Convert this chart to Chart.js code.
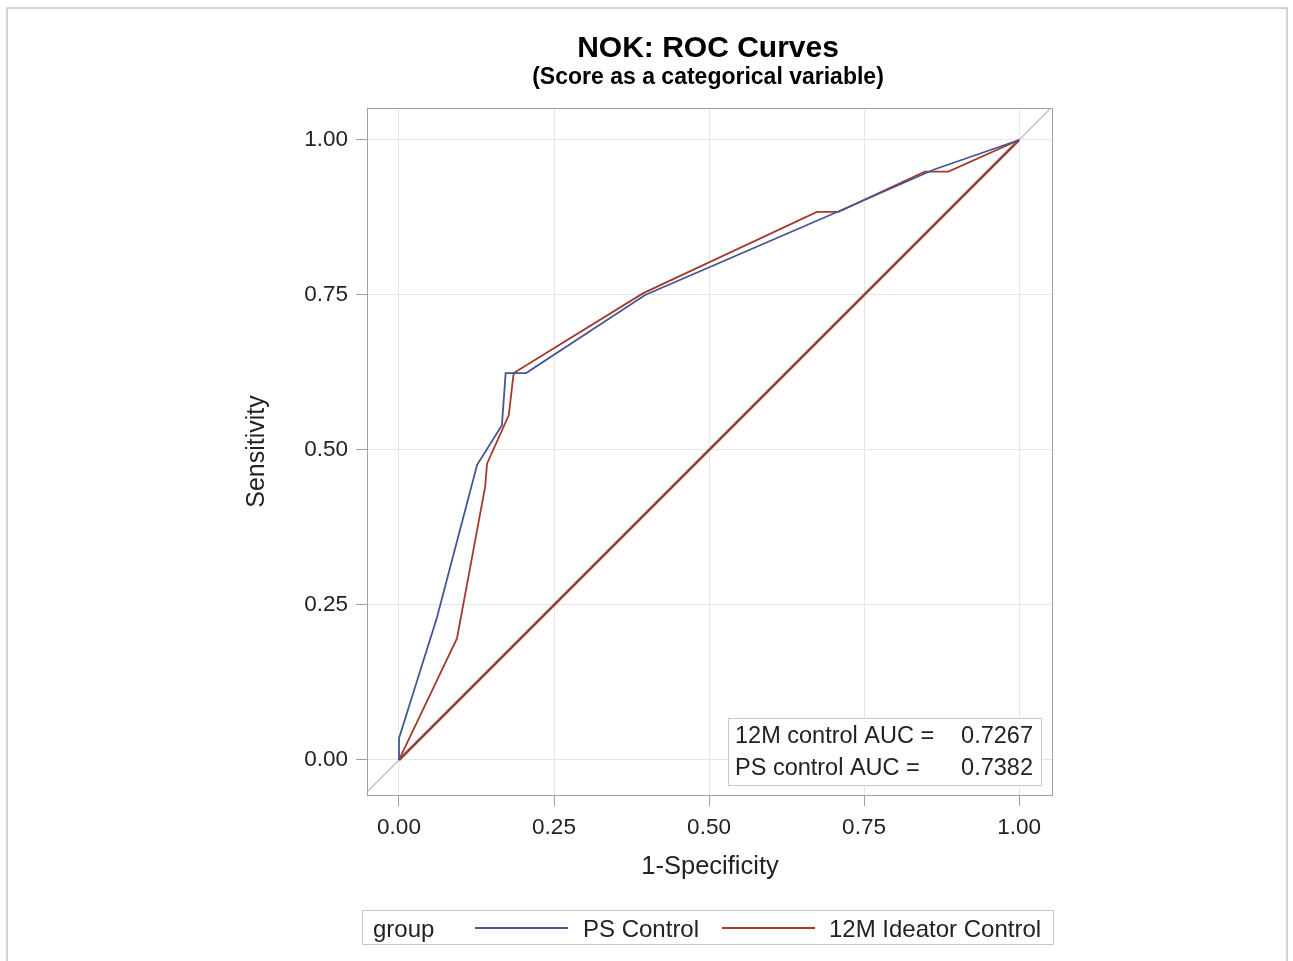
<!DOCTYPE html>
<html>
<head>
<meta charset="utf-8">
<script src="https://cdn.jsdelivr.net/npm/chart.js@4"></script>
<style>
html, body { margin: 0; padding: 0; background: #fff; }
#wrap { position: relative; width: 1293px; height: 961px; }
</style>
</head>
<body>
<div id="wrap"><canvas id="rocChart" width="1293" height="961"></canvas></div>
<script>
// ROC points (1-Specificity, Sensitivity)
const psX = [0, 0, 0.061, 0.126, 0.166, 0.172, 0.205, 0.397, 0.714, 0.862, 1];
const psY = [0, 0.035, 0.229, 0.476, 0.540, 0.624, 0.624, 0.750, 0.887, 0.952, 1];

const ideatorX = [0, 0.0935, 0.139, 0.142, 0.177, 0.185, 0.394, 0.674, 0.709, 0.848, 0.886, 1];
const ideatorY = [0, 0.196, 0.441, 0.478, 0.556, 0.624, 0.753, 0.884, 0.884, 0.949, 0.949, 1];

const chanceX = [0, 1];
const chanceY = [0, 1];
const refX = [-0.1, 1.1];
const refY = [-0.1, 1.1];

const xTicks = [0, 0.25, 0.5, 0.75, 1];
const yTicks = [0, 0.25, 0.5, 0.75, 1];

const seriesNames = ['PS Control', '12M Ideator Control'];
const aucLabels = ['12M control AUC =', 'PS control AUC ='];
const aucValues = ['0.7267', '0.7382'];

const BLUE = '#445694';
const RED = '#a23a2e';
const FONT = '"Liberation Sans", Arial, sans-serif';

function toPoints(xs, ys) {
    return xs.map((x, i) => ({ x: x, y: ys[i] }));
}

// draws outer frame, titles, plot border, AUC inset and the group legend
const decorations = {
    id: 'decorations',
    beforeDraw(chart) {
        const ctx = chart.ctx;
        ctx.save();
        ctx.strokeStyle = '#d2d2d2';
        ctx.lineWidth = 2;
        ctx.strokeRect(7, 8, 1280, 960);
        ctx.restore();
    },
    afterDraw(chart) {
        const ctx = chart.ctx;
        const a = chart.chartArea;
        ctx.save();

        // titles
        ctx.fillStyle = '#000';
        ctx.textAlign = 'center';
        ctx.textBaseline = 'alphabetic';
        ctx.font = 'bold 30px ' + FONT;
        ctx.fillText('NOK: ROC Curves', 708, 57);
        ctx.font = 'bold 23px ' + FONT;
        ctx.fillText('(Score as a categorical variable)', 708, 84);

        // plot frame
        ctx.strokeStyle = '#a0a0a0';
        ctx.lineWidth = 1;
        ctx.strokeRect(a.left + 0.5, a.top + 0.5, a.right - a.left - 1, a.bottom - a.top);

        // AUC inset
        ctx.fillStyle = '#fff';
        ctx.fillRect(728, 718, 313, 67);
        ctx.strokeStyle = '#c8c8c8';
        ctx.strokeRect(728.5, 718.5, 313, 67);
        ctx.fillStyle = '#222';
        ctx.font = '23.5px ' + FONT;
        aucLabels.forEach((lab, i) => {
            const y = 743 + i * 32;
            ctx.textAlign = 'left';
            ctx.fillText(lab, 735, y);
            ctx.textAlign = 'right';
            ctx.fillText(aucValues[i], 1033, y);
        });

        // legend
        ctx.fillStyle = '#fff';
        ctx.fillRect(362, 910, 691, 34);
        ctx.strokeStyle = '#c8c8c8';
        ctx.strokeRect(362.5, 910.5, 691, 34);
        ctx.fillStyle = '#222';
        ctx.textAlign = 'left';
        ctx.font = '24px ' + FONT;
        ctx.fillText('group', 373, 937);
        const items = [
            { x0: 475, x1: 568, tx: 583 },
            { x0: 722, x1: 815, tx: 829 }
        ];
        items.forEach((it, i) => {
            const ds = chart.data.datasets[i];
            ctx.strokeStyle = ds.borderColor;
            ctx.lineWidth = 2;
            ctx.beginPath();
            ctx.moveTo(it.x0, 928);
            ctx.lineTo(it.x1, 928);
            ctx.stroke();
            ctx.fillStyle = '#222';
            ctx.fillText(ds.label, it.tx, 937);
        });

        ctx.restore();
    }
};

const fixedTicks = (vals) => (scale) => {
    scale.ticks = vals.map(v => ({ value: v }));
};

const ctx = document.getElementById('rocChart').getContext('2d');
const rocChart = new Chart(ctx, {
    type: 'line',
    data: {
        datasets: [
            {
                label: seriesNames[0],
                data: toPoints(psX, psY),
                borderColor: BLUE,
                borderWidth: 1.8,
                pointRadius: 0,
                tension: 0
            },
            {
                label: seriesNames[1],
                data: toPoints(ideatorX, ideatorY),
                borderColor: RED,
                borderWidth: 1.8,
                pointRadius: 0,
                tension: 0
            },
            {
                label: 'chance',
                data: toPoints(chanceX, chanceY),
                borderColor: '#8f4640',
                borderWidth: 2.6,
                pointRadius: 0,
                tension: 0
            },
            {
                label: 'reference',
                data: toPoints(refX, refY),
                borderColor: '#c4c4c4',
                borderWidth: 1.5,
                pointRadius: 0,
                tension: 0
            }
        ]
    },
    options: {
        responsive: false,
        animation: false,
        devicePixelRatio: 1,
        layout: {
            padding: { left: 225, right: 240, top: 108, bottom: 66 }
        },
        plugins: {
            legend: { display: false },
            title: { display: false },
            tooltip: { enabled: false }
        },
        scales: {
            x: {
                type: 'linear',
                position: 'bottom',
                min: -0.0516,
                max: 1.0548,
                afterBuildTicks: fixedTicks(xTicks),
                afterFit: (scale) => { scale.height = 100; },
                border: { display: false },
                grid: {
                    color: '#e6e6e6',
                    lineWidth: 1,
                    tickColor: '#a0a0a0',
                    tickLength: 11
                },
                ticks: {
                    padding: 8,
                    color: '#222',
                    font: { family: FONT, size: 22.5 },
                    callback: (v) => Number(v).toFixed(2)
                },
                title: {
                    display: true,
                    text: '1-Specificity',
                    color: '#222',
                    font: { family: FONT, size: 25.5 },
                    padding: { top: 0, bottom: 13 }
                }
            },
            y: {
                type: 'linear',
                position: 'left',
                min: -0.0565,
                max: 1.0516,
                afterBuildTicks: fixedTicks(yTicks),
                afterFit: (scale) => { scale.width = 142; },
                border: { display: false },
                grid: {
                    color: '#e6e6e6',
                    lineWidth: 1,
                    tickColor: '#a0a0a0',
                    tickLength: 11
                },
                ticks: {
                    padding: 8,
                    color: '#222',
                    font: { family: FONT, size: 22.5 },
                    callback: (v) => Number(v).toFixed(2)
                },
                title: {
                    display: true,
                    text: 'Sensitivity',
                    color: '#222',
                    font: { family: FONT, size: 25 },
                    padding: { top: 17, bottom: 0 }
                }
            }
        }
    },
    plugins: [decorations]
});
</script>
</body>
</html>
